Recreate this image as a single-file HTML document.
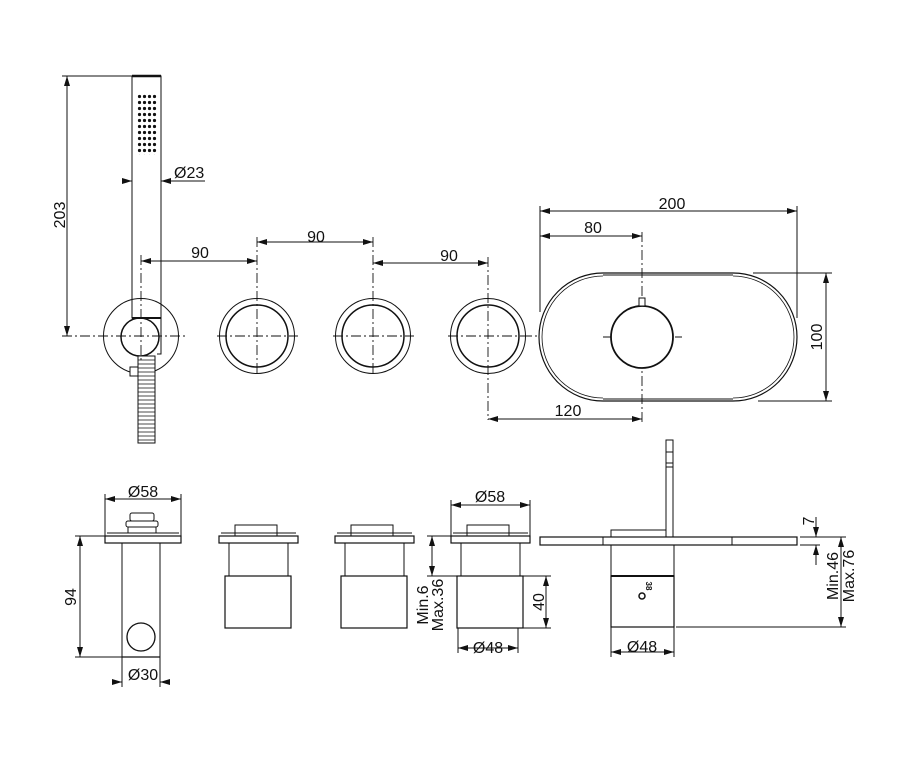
<!DOCTYPE html>
<html><head><style>
html,body{margin:0;padding:0;background:#fff;}
svg{display:block;}
text{font-family:"Liberation Sans",sans-serif;font-size:16px;fill:#111;}
</style></head><body>
<svg width="924" height="760" viewBox="0 0 924 760" xmlns="http://www.w3.org/2000/svg">
<defs>
<marker id="a" viewBox="0 0 10 6" refX="10" refY="3" markerWidth="10" markerHeight="6" orient="auto-start-reverse" markerUnits="userSpaceOnUse"><path d="M0,0 L10,3 L0,6 z" fill="#111"/></marker>
<pattern id="dots" x="137" y="94" width="5" height="6" patternUnits="userSpaceOnUse"><circle cx="2.5" cy="2.5" r="1.6" fill="#111"/></pattern>
</defs>
<g stroke="#111" fill="none" stroke-width="1">
<rect x="132" y="76" width="29" height="242" fill="#fff"/>
<line x1="132" y1="76" x2="161" y2="76" stroke-width="2.5"/>
<rect x="137" y="94" width="20" height="61" fill="url(#dots)" stroke="none"/>
<circle cx="141" cy="336" r="37.5" fill="none"/>
<circle cx="140" cy="337" r="19" fill="#fff" stroke-width="1.5"/>
<line x1="132" y1="318" x2="161" y2="318" stroke-width="2"/>
<path d="M161,318 V354 H157" />
<rect x="130" y="367" width="9" height="9" fill="#fff"/>
<rect x="138" y="356" width="17" height="87" fill="#fff"/>
<g stroke-width="0.8">
<path d="M138,360 h17 M138,364 h17 M138,368 h17 M138,372 h17 M138,376 h17 M138,380 h17 M138,384 h17 M138,388 h17 M138,392 h17 M138,396 h17 M138,400 h17 M138,404 h17 M138,408 h17 M138,412 h17 M138,416 h17 M138,420 h17 M138,424 h17 M138,428 h17 M138,432 h17 M138,436 h17 M138,440 h17"/>
</g>
<g stroke-dasharray="10,3,2,3" stroke-width="0.9">
<line x1="62" y1="336" x2="186" y2="336"/>
<line x1="141" y1="255" x2="141" y2="360"/>
<line x1="217" y1="336" x2="298" y2="336"/>
<line x1="257" y1="237" x2="257" y2="376"/>
<line x1="333" y1="336" x2="414" y2="336"/>
<line x1="373" y1="237" x2="373" y2="376"/>
<line x1="448" y1="336" x2="529" y2="336"/>
<line x1="488" y1="257" x2="488" y2="420"/>
<line x1="603" y1="337" x2="682" y2="337"/>
<line x1="642" y1="232" x2="642" y2="425"/>
<line x1="522" y1="336" x2="540" y2="336"/>
</g>
<circle cx="257" cy="336" r="37.5"/><circle cx="257" cy="336" r="31" stroke-width="1.5"/>
<circle cx="373" cy="336" r="37.5"/><circle cx="373" cy="336" r="31" stroke-width="1.5"/>
<circle cx="488" cy="336" r="37.5"/><circle cx="488" cy="336" r="31" stroke-width="1.5"/>
<path d="M603,273 H733 A64,64 0 0 1 733,401 H603 A64,64 0 0 1 603,273 Z" stroke-width="1.2"/>
<path d="M603,276 A61,61 0 0 0 603,398 M733,276 A61,61 0 0 1 733,398" stroke-width="0.8"/>
<line x1="603" y1="275" x2="733" y2="275"/><line x1="603" y1="399" x2="733" y2="399"/>
<circle cx="642" cy="337" r="31" fill="#fff" stroke-width="1.8"/>
<rect x="639" y="298" width="6" height="8" fill="#fff"/>
<line x1="67" y1="76" x2="67" y2="336" marker-start="url(#a)" marker-end="url(#a)"/>
<line x1="62" y1="76" x2="132" y2="76"/>
<line x1="122" y1="181" x2="132" y2="181" marker-end="url(#a)"/>
<line x1="205" y1="181" x2="161" y2="181" marker-end="url(#a)"/>
<line x1="141" y1="261" x2="257" y2="261" marker-start="url(#a)" marker-end="url(#a)"/>
<line x1="257" y1="242" x2="373" y2="242" marker-start="url(#a)" marker-end="url(#a)"/>
<line x1="373" y1="263" x2="488" y2="263" marker-start="url(#a)" marker-end="url(#a)"/>
<line x1="540" y1="211" x2="797" y2="211" marker-start="url(#a)" marker-end="url(#a)"/>
<line x1="540" y1="206" x2="540" y2="312"/><line x1="797" y1="206" x2="797" y2="318"/>
<line x1="540" y1="236" x2="642" y2="236" marker-start="url(#a)" marker-end="url(#a)"/>
<line x1="488" y1="419" x2="642" y2="419" marker-start="url(#a)" marker-end="url(#a)"/>
<line x1="826" y1="273" x2="826" y2="401" marker-start="url(#a)" marker-end="url(#a)"/>
<line x1="753" y1="273" x2="832" y2="273"/><line x1="758" y1="401" x2="832" y2="401"/>

<line x1="107" y1="533" x2="179" y2="533"/>
<rect x="105" y="536" width="76" height="7" stroke-width="1.2"/>
<rect x="130" y="513" width="24" height="8" rx="2"/>
<rect x="126" y="521" width="32" height="6" rx="2"/>
<rect x="128" y="527" width="28" height="6"/>
<rect x="122" y="543" width="38" height="114"/>
<circle cx="141" cy="637" r="14" fill="#fff" stroke-width="1.3"/>
<line x1="122" y1="657" x2="160" y2="657" stroke-width="1.3"/>
<line x1="105" y1="499" x2="181" y2="499" marker-start="url(#a)" marker-end="url(#a)"/>
<line x1="105" y1="494" x2="105" y2="536"/><line x1="181" y1="494" x2="181" y2="536"/>
<line x1="80" y1="536" x2="80" y2="657" marker-start="url(#a)" marker-end="url(#a)"/>
<line x1="75" y1="536" x2="105" y2="536"/><line x1="75" y1="657" x2="122" y2="657"/>
<line x1="112" y1="682" x2="122" y2="682" marker-end="url(#a)"/>
<line x1="170" y1="682" x2="160" y2="682" marker-end="url(#a)"/>
<line x1="122" y1="657" x2="122" y2="687"/><line x1="160" y1="657" x2="160" y2="687"/>
<g id="k">
<line x1="221" y1="533" x2="296" y2="533"/>
<rect x="219" y="536" width="79" height="7" stroke-width="1.2"/>
<rect x="235" y="525" width="42" height="11"/>
<rect x="229" y="543" width="59" height="33"/>
<rect x="225" y="576" width="66" height="52" stroke-width="1.2"/>
</g>
<use href="#k" x="116"/>
<use href="#k" x="232"/>
<line x1="451" y1="505" x2="530" y2="505" marker-start="url(#a)" marker-end="url(#a)"/>
<line x1="451" y1="500" x2="451" y2="536"/><line x1="530" y1="500" x2="530" y2="536"/>
<line x1="432" y1="536" x2="432" y2="576" marker-start="url(#a)" marker-end="url(#a)"/>
<line x1="427" y1="536" x2="451" y2="536"/><line x1="427" y1="576" x2="457" y2="576"/>
<line x1="458" y1="648" x2="518" y2="648" marker-start="url(#a)" marker-end="url(#a)"/>
<line x1="458" y1="628" x2="458" y2="653"/><line x1="518" y1="628" x2="518" y2="653"/>
<line x1="546" y1="576" x2="546" y2="628" marker-start="url(#a)" marker-end="url(#a)"/>
<line x1="523" y1="576" x2="551" y2="576"/><line x1="523" y1="628" x2="551" y2="628"/>
<rect x="666" y="440" width="7" height="97" fill="#fff"/>
<line x1="666" y1="452" x2="673" y2="452"/><line x1="666" y1="463" x2="673" y2="463"/><line x1="666" y1="467" x2="673" y2="467"/>
<rect x="611" y="530" width="55" height="7"/>
<rect x="540" y="537" width="257" height="8" stroke-width="1.2"/>
<line x1="603" y1="537" x2="603" y2="545"/><line x1="732" y1="537" x2="732" y2="545"/>
<rect x="611" y="545" width="63" height="31"/>
<rect x="611" y="576" width="63" height="51" stroke-width="1.2"/>
<line x1="611" y1="576" x2="674" y2="576" stroke-width="2"/>
<circle cx="642" cy="596" r="3" stroke-width="1.5"/>
<line x1="611" y1="652" x2="674" y2="652" marker-start="url(#a)" marker-end="url(#a)"/>
<line x1="611" y1="627" x2="611" y2="657"/><line x1="674" y1="627" x2="674" y2="657"/>
<line x1="816" y1="517" x2="816" y2="537" marker-end="url(#a)"/>
<line x1="816" y1="565" x2="816" y2="545" marker-end="url(#a)"/>
<line x1="800" y1="537" x2="846" y2="537"/><line x1="800" y1="545" x2="820" y2="545"/>
<line x1="841" y1="537" x2="841" y2="627" marker-start="url(#a)" marker-end="url(#a)"/>
<line x1="676" y1="627" x2="846" y2="627"/>
</g>
<text x="174" y="178">Ø23</text>
<text transform="translate(65,215) rotate(-90)" text-anchor="middle">203</text>
<text x="200" y="258" text-anchor="middle">90</text>
<text x="316" y="242" text-anchor="middle">90</text>
<text x="449" y="261" text-anchor="middle">90</text>
<text x="672" y="209" text-anchor="middle">200</text>
<text x="593" y="233" text-anchor="middle">80</text>
<text x="568" y="416" text-anchor="middle">120</text>
<text transform="translate(822,337) rotate(-90)" text-anchor="middle">100</text>
<text x="143" y="497" text-anchor="middle">Ø58</text>
<text transform="translate(76,597) rotate(-90)" text-anchor="middle">94</text>
<text x="143" y="680" text-anchor="middle">Ø30</text>
<text x="490" y="502" text-anchor="middle">Ø58</text>
<text transform="translate(428,605) rotate(-90)" text-anchor="middle">Min.6</text>
<text transform="translate(443,605) rotate(-90)" text-anchor="middle">Max.36</text>
<text x="488" y="653" text-anchor="middle">Ø48</text>
<text transform="translate(544,602) rotate(-90)" text-anchor="middle">40</text>
<text x="642" y="652" text-anchor="middle">Ø48</text>
<text transform="translate(646,586) rotate(90)" text-anchor="middle" style="font-size:8px;font-weight:bold">38</text>
<text transform="translate(814,521) rotate(-90)" text-anchor="middle">7</text>
<text transform="translate(838,576) rotate(-90)" text-anchor="middle">Min.46</text>
<text transform="translate(854,576) rotate(-90)" text-anchor="middle">Max.76</text>
</svg>
</body></html>
